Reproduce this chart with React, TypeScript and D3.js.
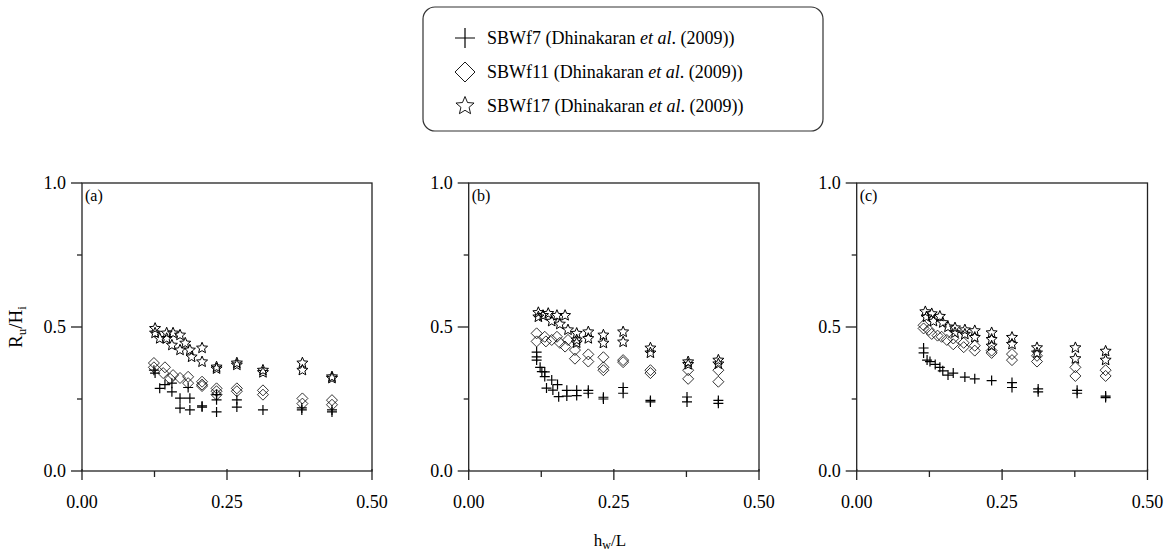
import React from "react";
import * as d3 from "d3";

// ---------- data (hw/L, Ru/Hi) ----------
const panelLabels = ["(a)", "(b)", "(c)"];
const xTicksMajor = [0, 0.25, 0.5];
const xTicksMinor = [0.125, 0.375];
const yTicksMajor = [0, 0.5, 1.0];
const yTicksMinor = [0.25, 0.75];
const legendNames = ["SBWf7", "SBWf11", "SBWf17"];

// Panel (a)
const aF7: [number, number][] = [
  [0.124, 0.35], [0.126, 0.34], [0.134, 0.287], [0.143, 0.3], [0.155, 0.275], [0.155, 0.305],
  [0.169, 0.253], [0.169, 0.218], [0.183, 0.29], [0.186, 0.253], [0.186, 0.212],
  [0.207, 0.226], [0.207, 0.222], [0.232, 0.247], [0.232, 0.205], [0.232, 0.265],
  [0.267, 0.247], [0.267, 0.222], [0.312, 0.212], [0.379, 0.219], [0.379, 0.212],
  [0.431, 0.212], [0.431, 0.205],
];
const aF11: [number, number][] = [
  [0.124, 0.375], [0.124, 0.36], [0.143, 0.36], [0.14, 0.34], [0.152, 0.32], [0.157, 0.333],
  [0.169, 0.323], [0.183, 0.327], [0.183, 0.305], [0.207, 0.31], [0.207, 0.3], [0.207, 0.295],
  [0.232, 0.287], [0.232, 0.277], [0.232, 0.265], [0.267, 0.287], [0.267, 0.277],
  [0.312, 0.28], [0.312, 0.265], [0.38, 0.252], [0.38, 0.234], [0.431, 0.246], [0.431, 0.23],
];
const aF17: [number, number][] = [
  [0.126, 0.495], [0.126, 0.479], [0.134, 0.46], [0.146, 0.479], [0.146, 0.46], [0.157, 0.479],
  [0.155, 0.437], [0.169, 0.472], [0.169, 0.42], [0.178, 0.444], [0.186, 0.42], [0.189, 0.396],
  [0.207, 0.427], [0.207, 0.379], [0.232, 0.361], [0.232, 0.355], [0.267, 0.375], [0.267, 0.368],
  [0.312, 0.35], [0.312, 0.342], [0.38, 0.375], [0.38, 0.35], [0.431, 0.327], [0.431, 0.322],
];

// Panel (b)
const bF7: [number, number][] = [
  [0.117, 0.413], [0.117, 0.396], [0.117, 0.385], [0.123, 0.36], [0.126, 0.345], [0.131, 0.344],
  [0.131, 0.328], [0.134, 0.288], [0.143, 0.316], [0.145, 0.281], [0.153, 0.3], [0.155, 0.258],
  [0.169, 0.28], [0.169, 0.26], [0.186, 0.28], [0.186, 0.262], [0.206, 0.28], [0.206, 0.27],
  [0.232, 0.256], [0.232, 0.25], [0.266, 0.29], [0.266, 0.27], [0.313, 0.245], [0.313, 0.24],
  [0.376, 0.257], [0.376, 0.24], [0.43, 0.245], [0.43, 0.235],
];
const bF11: [number, number][] = [
  [0.117, 0.478], [0.117, 0.45], [0.131, 0.466], [0.133, 0.45], [0.143, 0.455], [0.152, 0.466],
  [0.157, 0.445], [0.166, 0.432], [0.171, 0.455], [0.183, 0.42], [0.183, 0.39], [0.206, 0.405],
  [0.206, 0.38], [0.232, 0.395], [0.232, 0.36], [0.232, 0.35], [0.266, 0.385], [0.266, 0.378],
  [0.313, 0.35], [0.313, 0.34], [0.378, 0.35], [0.378, 0.32], [0.43, 0.35], [0.43, 0.31],
];
const bF17: [number, number][] = [
  [0.12, 0.55], [0.12, 0.535], [0.128, 0.54], [0.137, 0.547], [0.143, 0.52], [0.152, 0.54],
  [0.157, 0.51], [0.166, 0.54], [0.171, 0.49], [0.186, 0.478], [0.186, 0.455], [0.186, 0.445],
  [0.206, 0.483], [0.206, 0.46], [0.232, 0.472], [0.232, 0.444], [0.266, 0.483], [0.266, 0.448],
  [0.313, 0.427], [0.313, 0.41], [0.378, 0.379], [0.378, 0.37], [0.43, 0.385], [0.43, 0.372],
];

// Panel (c)
const cF7: [number, number][] = [
  [0.115, 0.427], [0.115, 0.41], [0.121, 0.385], [0.126, 0.38], [0.135, 0.37], [0.143, 0.36],
  [0.148, 0.348], [0.157, 0.333], [0.166, 0.34], [0.186, 0.326], [0.203, 0.32], [0.232, 0.314],
  [0.267, 0.307], [0.267, 0.29], [0.312, 0.285], [0.312, 0.275], [0.379, 0.28], [0.379, 0.27],
  [0.428, 0.26], [0.428, 0.255],
];
const cF11: [number, number][] = [
  [0.115, 0.506], [0.115, 0.495], [0.124, 0.49], [0.129, 0.476], [0.139, 0.47], [0.146, 0.466],
  [0.155, 0.455], [0.166, 0.44], [0.166, 0.46], [0.184, 0.445], [0.184, 0.43], [0.203, 0.435],
  [0.203, 0.418], [0.232, 0.418], [0.232, 0.41], [0.267, 0.406], [0.267, 0.385], [0.31, 0.4],
  [0.31, 0.38], [0.376, 0.36], [0.376, 0.33], [0.428, 0.35], [0.428, 0.33],
];
const cF17: [number, number][] = [
  [0.118, 0.553], [0.12, 0.535], [0.129, 0.546], [0.132, 0.52], [0.143, 0.537], [0.148, 0.515],
  [0.157, 0.5], [0.169, 0.497], [0.169, 0.48], [0.186, 0.49], [0.186, 0.475], [0.203, 0.487],
  [0.203, 0.464], [0.232, 0.48], [0.232, 0.457], [0.232, 0.434], [0.267, 0.464], [0.267, 0.44],
  [0.31, 0.428], [0.31, 0.41], [0.376, 0.428], [0.376, 0.39], [0.428, 0.416], [0.428, 0.385],
];

const panelsData = [
  { f7: aF7, f11: aF11, f17: aF17 },
  { f7: bF7, f11: bF11, f17: bF17 },
  { f7: cF7, f11: cF11, f17: cF17 },
];

// ---------- layout ----------
const W = 1168;
const H = 555;
const panelX: [number, number][] = [
  [82, 372],
  [468.7, 759],
  [856.7, 1147.5],
];
const yTop = 183;
const yBot = 471;
const FONT = '"Liberation Serif", "Times New Roman", "DejaVu Serif", serif';
const AX = "#222";
const tf = (size: number, extra: React.CSSProperties = {}): React.CSSProperties => ({
  fontFamily: FONT,
  fontSize: size,
  ...extra,
});

function plusPath(r: number) {
  return `M${-r},0H${r}M0,${-r}V${r}`;
}
function diamondPath(r: number) {
  return `M0,${-r}L${r},0L0,${r}L${-r},0Z`;
}
function starPath(r: number) {
  const inner = r * 0.45;
  const pts: string[] = [];
  for (let i = 0; i < 10; i++) {
    const rr = i % 2 === 0 ? r : inner;
    const a = -Math.PI / 2 + (i * Math.PI) / 5;
    pts.push(`${(rr * Math.cos(a)).toFixed(2)},${(rr * Math.sin(a)).toFixed(2)}`);
  }
  return "M" + pts.join("L") + "Z";
}

function Panel({ idx }: { idx: number }) {
  const [x0, x1] = panelX[idx];
  const x = d3.scaleLinear().domain([0, 0.5]).range([x0, x1]);
  const y = d3.scaleLinear().domain([0, 1]).range([yBot, yTop]);
  const data = panelsData[idx];
  return (
    <g>
      <rect x={x0} y={yTop} width={x1 - x0} height={yBot - yTop} fill="none" stroke={AX} strokeWidth={1.3} />
      {yTicksMajor.map((t) => (
        <g key={"ym" + t}>
          <line x1={x0 - 11} x2={x0} y1={y(t)} y2={y(t)} stroke={AX} strokeWidth={1.3} />
          <text x={x0 - 16} y={y(t)} dy="0.35em" textAnchor="end" style={tf(18)}>
            {d3.format(".1f")(t)}
          </text>
        </g>
      ))}
      {yTicksMinor.map((t) => (
        <line key={"yn" + t} x1={x0 - 5} x2={x0} y1={y(t)} y2={y(t)} stroke={AX} strokeWidth={1.3} />
      ))}
      {xTicksMajor.map((t) => (
        <g key={"xm" + t}>
          <line x1={x(t)} x2={x(t)} y1={yBot - 2} y2={yBot + 9} stroke={AX} strokeWidth={1.3} />
          <text x={x(t)} y={508} textAnchor="middle" style={tf(18)}>
            {d3.format(".2f")(t)}
          </text>
        </g>
      ))}
      {xTicksMinor.map((t) => (
        <line key={"xn" + t} x1={x(t)} x2={x(t)} y1={yBot} y2={yBot + 6} stroke={AX} strokeWidth={1.3} />
      ))}
      <text x={x0 + 3} y={yTop + 18} style={tf(16)}>
        {panelLabels[idx]}
      </text>
      {data.f11.map((p, i) => (
        <path key={"d" + i} d={diamondPath(5.5)} transform={`translate(${x(p[0])},${y(p[1])})`} fill="none" stroke="#000" strokeWidth={0.8} />
      ))}
      {data.f17.map((p, i) => (
        <path key={"s" + i} d={starPath(5.8)} transform={`translate(${x(p[0])},${y(p[1])})`} fill="none" stroke="#000" strokeWidth={1} />
      ))}
      {data.f7.map((p, i) => (
        <path key={"p" + i} d={plusPath(5)} transform={`translate(${x(p[0])},${y(p[1])})`} fill="none" stroke="#000" strokeWidth={1.2} />
      ))}
    </g>
  );
}

export default function App() {
  const legendRows = [38, 72, 106];
  const symbols = [plusPath(10), diamondPath(10), starPath(9.5)];
  return (
    <svg width={W} height={H} style={{ position: "absolute", left: 0, top: 0, background: "#fff" }}>
      <rect x={0} y={0} width={W} height={H} fill="#fff" />
      <rect x={423} y={7} width={400} height={124} rx={12} ry={12} fill="none" stroke="#333" strokeWidth={1.2} />
      {legendNames.map((n, i) => (
        <g key={n}>
          <path d={symbols[i]} transform={`translate(465,${legendRows[i]})`} fill="none" stroke="#000" strokeWidth={i === 0 ? 1.2 : 0.9} />
          <text x={487} y={legendRows[i]} dy="0.35em" style={tf(18)}>
            {n} (Dhinakaran <tspan style={{ fontStyle: "italic" }}>et al</tspan>. (2009))
          </text>
        </g>
      ))}
      {[0, 1, 2].map((i) => (
        <Panel key={i} idx={i} />
      ))}
      <text transform="translate(22,327) rotate(-90)" textAnchor="middle" style={tf(19)}>
        R<tspan style={{ fontSize: 13 }} dy={4}>u</tspan>
        <tspan dy={-4}>/H</tspan>
        <tspan style={{ fontSize: 13 }} dy={4}>i</tspan>
      </text>
      <text x={610} y={546} textAnchor="middle" style={tf(17)}>
        h<tspan style={{ fontSize: 12 }} dy={3}>w</tspan>
        <tspan dy={-3}>/L</tspan>
      </text>
    </svg>
  );
}
